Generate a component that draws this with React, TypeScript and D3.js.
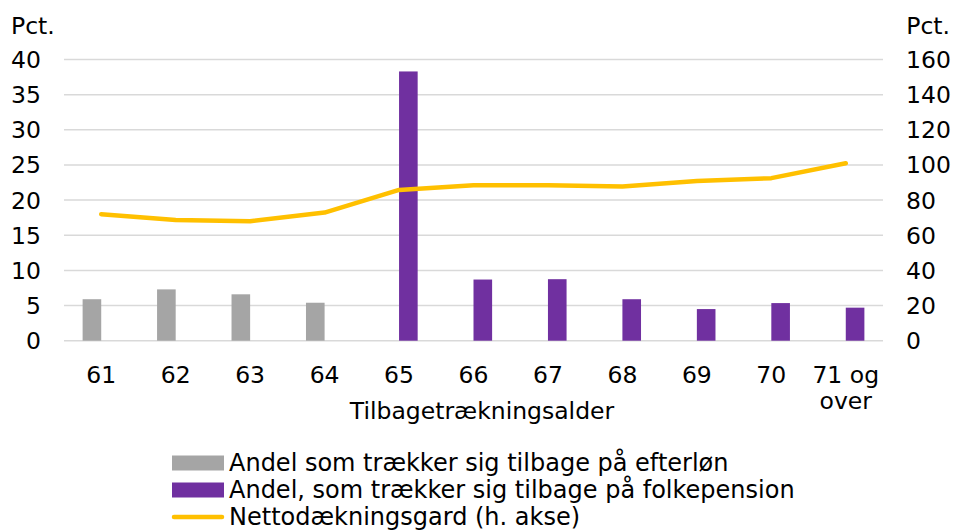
import React, { useEffect, useRef } from 'react';
import * as d3 from 'd3';

const ages = ['61', '62', '63', '64', '65', '66', '67', '68', '69', '70', '71 og over'];
const efterlon = [5.9, 7.3, 6.6, 5.4, 0, 0, 0, 0, 0, 0, 0];
const folkepension = [0, 0, 0, 0, 38.3, 8.7, 8.75, 5.9, 4.5, 5.35, 4.7];
const netto = [72, 68.7, 68, 72.9, 85.8, 88.5, 88.5, 87.7, 90.9, 92.5, 101];
const leftTicks = [0, 5, 10, 15, 20, 25, 30, 35, 40];
const rightTicks = [0, 20, 40, 60, 80, 100, 120, 140, 160];
const legendItems = [
  { label: 'Andel som trækker sig tilbage på efterløn', color: '#A5A5A5', type: 'bar' },
  { label: 'Andel, som trækker sig tilbage på folkepension', color: '#7030A0', type: 'bar' },
  { label: 'Nettodækningsgard (h. akse)', color: '#FFC000', type: 'line' },
];

export default function App() {
  const svgRef = useRef<SVGSVGElement>(null);

  useEffect(() => {
    if (!svgRef.current) return;
    const svg = d3.select(svgRef.current);
    svg.selectAll('*').remove();

    const font = 'Verdana, "DejaVu Sans", sans-serif';
    const fs = 23.5;
    const left = 64, right = 883, top = 59.5, bottom = 340.7;

    const x = d3.scaleBand<string>().domain(ages).range([left, right]);
    const yL = d3.scaleLinear().domain([0, 40]).range([bottom, top]);
    const yR = d3.scaleLinear().domain([0, 160]).range([bottom, top]);
    const bw = x.bandwidth() * 0.25;

    // gridlines
    svg.append('g').selectAll('line').data(leftTicks).enter().append('line')
      .attr('x1', left).attr('x2', right)
      .attr('y1', d => yL(d)).attr('y2', d => yL(d))
      .attr('stroke', '#D9D9D9').attr('stroke-width', 1.5);

    // bars
    svg.append('g').selectAll('rect').data(ages).enter().append('rect')
      .attr('x', d => x(d)! + x.bandwidth() / 2 - bw)
      .attr('width', bw)
      .attr('y', (d, i) => yL(efterlon[i]))
      .attr('height', (d, i) => bottom - yL(efterlon[i]))
      .attr('fill', '#A5A5A5');

    svg.append('g').selectAll('rect').data(ages).enter().append('rect')
      .attr('x', d => x(d)! + x.bandwidth() / 2)
      .attr('width', bw)
      .attr('y', (d, i) => yL(folkepension[i]))
      .attr('height', (d, i) => bottom - yL(folkepension[i]))
      .attr('fill', '#7030A0');

    // line
    const line = d3.line<number>()
      .x((d, i) => x(ages[i])! + x.bandwidth() / 2)
      .y(d => yR(d));
    svg.append('path').datum(netto)
      .attr('d', line)
      .attr('fill', 'none')
      .attr('stroke', '#FFC000')
      .attr('stroke-width', 4.5)
      .attr('stroke-linecap', 'round')
      .attr('stroke-linejoin', 'round');

    const txt = (sel: any, size = fs) =>
      sel.attr('font-family', font).attr('font-size', size).attr('fill', '#000');

    // axis labels
    svg.append('g').selectAll('text').data(leftTicks).enter().append('text')
      .attr('x', 41).attr('y', d => yL(d))
      .attr('dy', '0.36em')
      .attr('text-anchor', 'end')
      .call(txt)
      .text(d => d);

    svg.append('g').selectAll('text').data(rightTicks).enter().append('text')
      .attr('x', 906).attr('y', d => yR(d))
      .attr('dy', '0.36em')
      .call(txt)
      .text(d => d);

    svg.append('text').attr('x', 11).attr('y', 34).call(txt).text('Pct.');
    svg.append('text').attr('x', 950).attr('y', 34).attr('text-anchor', 'end').call(txt).text('Pct.');

    // x labels
    const xl = svg.append('g').selectAll('text').data(ages).enter().append('text')
      .attr('x', d => x(d)! + x.bandwidth() / 2)
      .attr('y', 383)
      .attr('text-anchor', 'middle')
      .call(txt);
    xl.each(function (d) {
      const t = d3.select(this);
      const parts = d === '71 og over' ? ['71 og', 'over'] : [d];
      parts.forEach((p, i) => {
        t.append('tspan').attr('x', x(d)! + x.bandwidth() / 2)
          .attr('dy', i === 0 ? 0 : 25.5).text(p);
      });
    });

    svg.append('text').attr('x', 482).attr('y', 419)
      .attr('text-anchor', 'middle')
      .call(txt)
      .text('Tilbagetrækningsalder');

    // legend
    const lg = svg.append('g');
    legendItems.forEach((item, i) => {
      const cy = 463 + i * 27;
      if (item.type === 'bar') {
        lg.append('rect').attr('x', 172).attr('y', cy - 7.5).attr('width', 52).attr('height', 15)
          .attr('fill', item.color);
      } else {
        lg.append('line').attr('x1', 174).attr('x2', 222).attr('y1', cy).attr('y2', cy)
          .attr('stroke', item.color).attr('stroke-width', 4.5).attr('stroke-linecap', 'round');
      }
      lg.append('text').attr('x', 229).attr('y', cy + 7.5)
        .call(txt, 24)
        .text(item.label);
    });
  }, []);

  return (
    <svg ref={svgRef} width={955} height={530}
      style={{ position: 'absolute', left: 0, top: 0, background: '#fff' }} />
  );
}
